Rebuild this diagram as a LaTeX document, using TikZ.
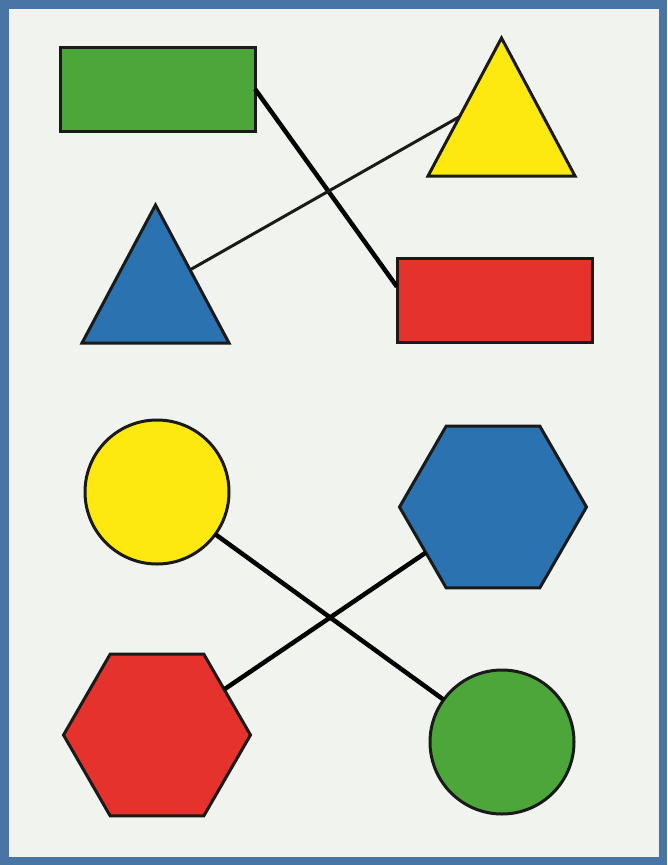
\documentclass[tikz,border=0pt]{standalone}
\usepackage{tikz}
\usetikzlibrary{shapes.geometric, calc}

\definecolor{frameblue}{HTML}{4874A6}
\definecolor{paper}{HTML}{F0F3EE}
\definecolor{shgreen}{HTML}{4CA63A}
\definecolor{shyellow}{HTML}{FDE910}
\definecolor{shblue}{HTML}{2B72B0}
\definecolor{shred}{HTML}{E5322C}
\definecolor{edge}{HTML}{1A1A1A}

\begin{document}
\begin{tikzpicture}[x=1pt, y=-1pt,
    figure/.style={draw=edge, line width=3pt, inner sep=0pt, outer sep=0pt},
    box/.style={figure, rectangle, minimum width=195pt, minimum height=84pt},
    tri/.style={figure, isosceles triangle, shape border rotate=90,
                isosceles triangle stretches, minimum width=147pt, minimum height=138pt},
    hex/.style={figure, regular polygon, regular polygon sides=6, minimum size=187pt},
    disc/.style={figure, circle, minimum size=144pt},
    link/.style={line width=4.5pt, black}]
  \useasboundingbox (0,0) rectangle (667,865);
  \draw[fill=paper, draw=frameblue, line width=8.5pt] (4.25,4.25) rectangle (662.75,860.75);

  % top half
  \node (grect) [box, fill=shgreen] at (157.5,89) {};
  \node (ytri) [tri, fill=shyellow, anchor=apex] at (501.5,38) {};
  \node (btri) [tri, fill=shblue, anchor=apex] at (155.5,205) {};
  \node (rrect) [box, fill=shred] at (494.5,300.5) {};
  \draw[link] (grect.east) -- (rrect.172);
  \draw[link, line width=3pt, draw=edge] ($(ytri.apex)!0.57!(ytri.left corner)$)
    -- ($(btri.apex)!0.47!(btri.right corner)$);

  % bottom half
  \node (ycirc) [disc, fill=shyellow] at (157,492) {};
  \node (bhex) [hex, fill=shblue] at (493,507) {};
  \node (rhex) [hex, fill=shred] at (157,735) {};
  \node (gcirc) [disc, fill=shgreen] at (502,742) {};
  \draw[link] (ycirc) -- (gcirc);
  \draw[link] (bhex) -- (rhex);
\end{tikzpicture}
\end{document}
